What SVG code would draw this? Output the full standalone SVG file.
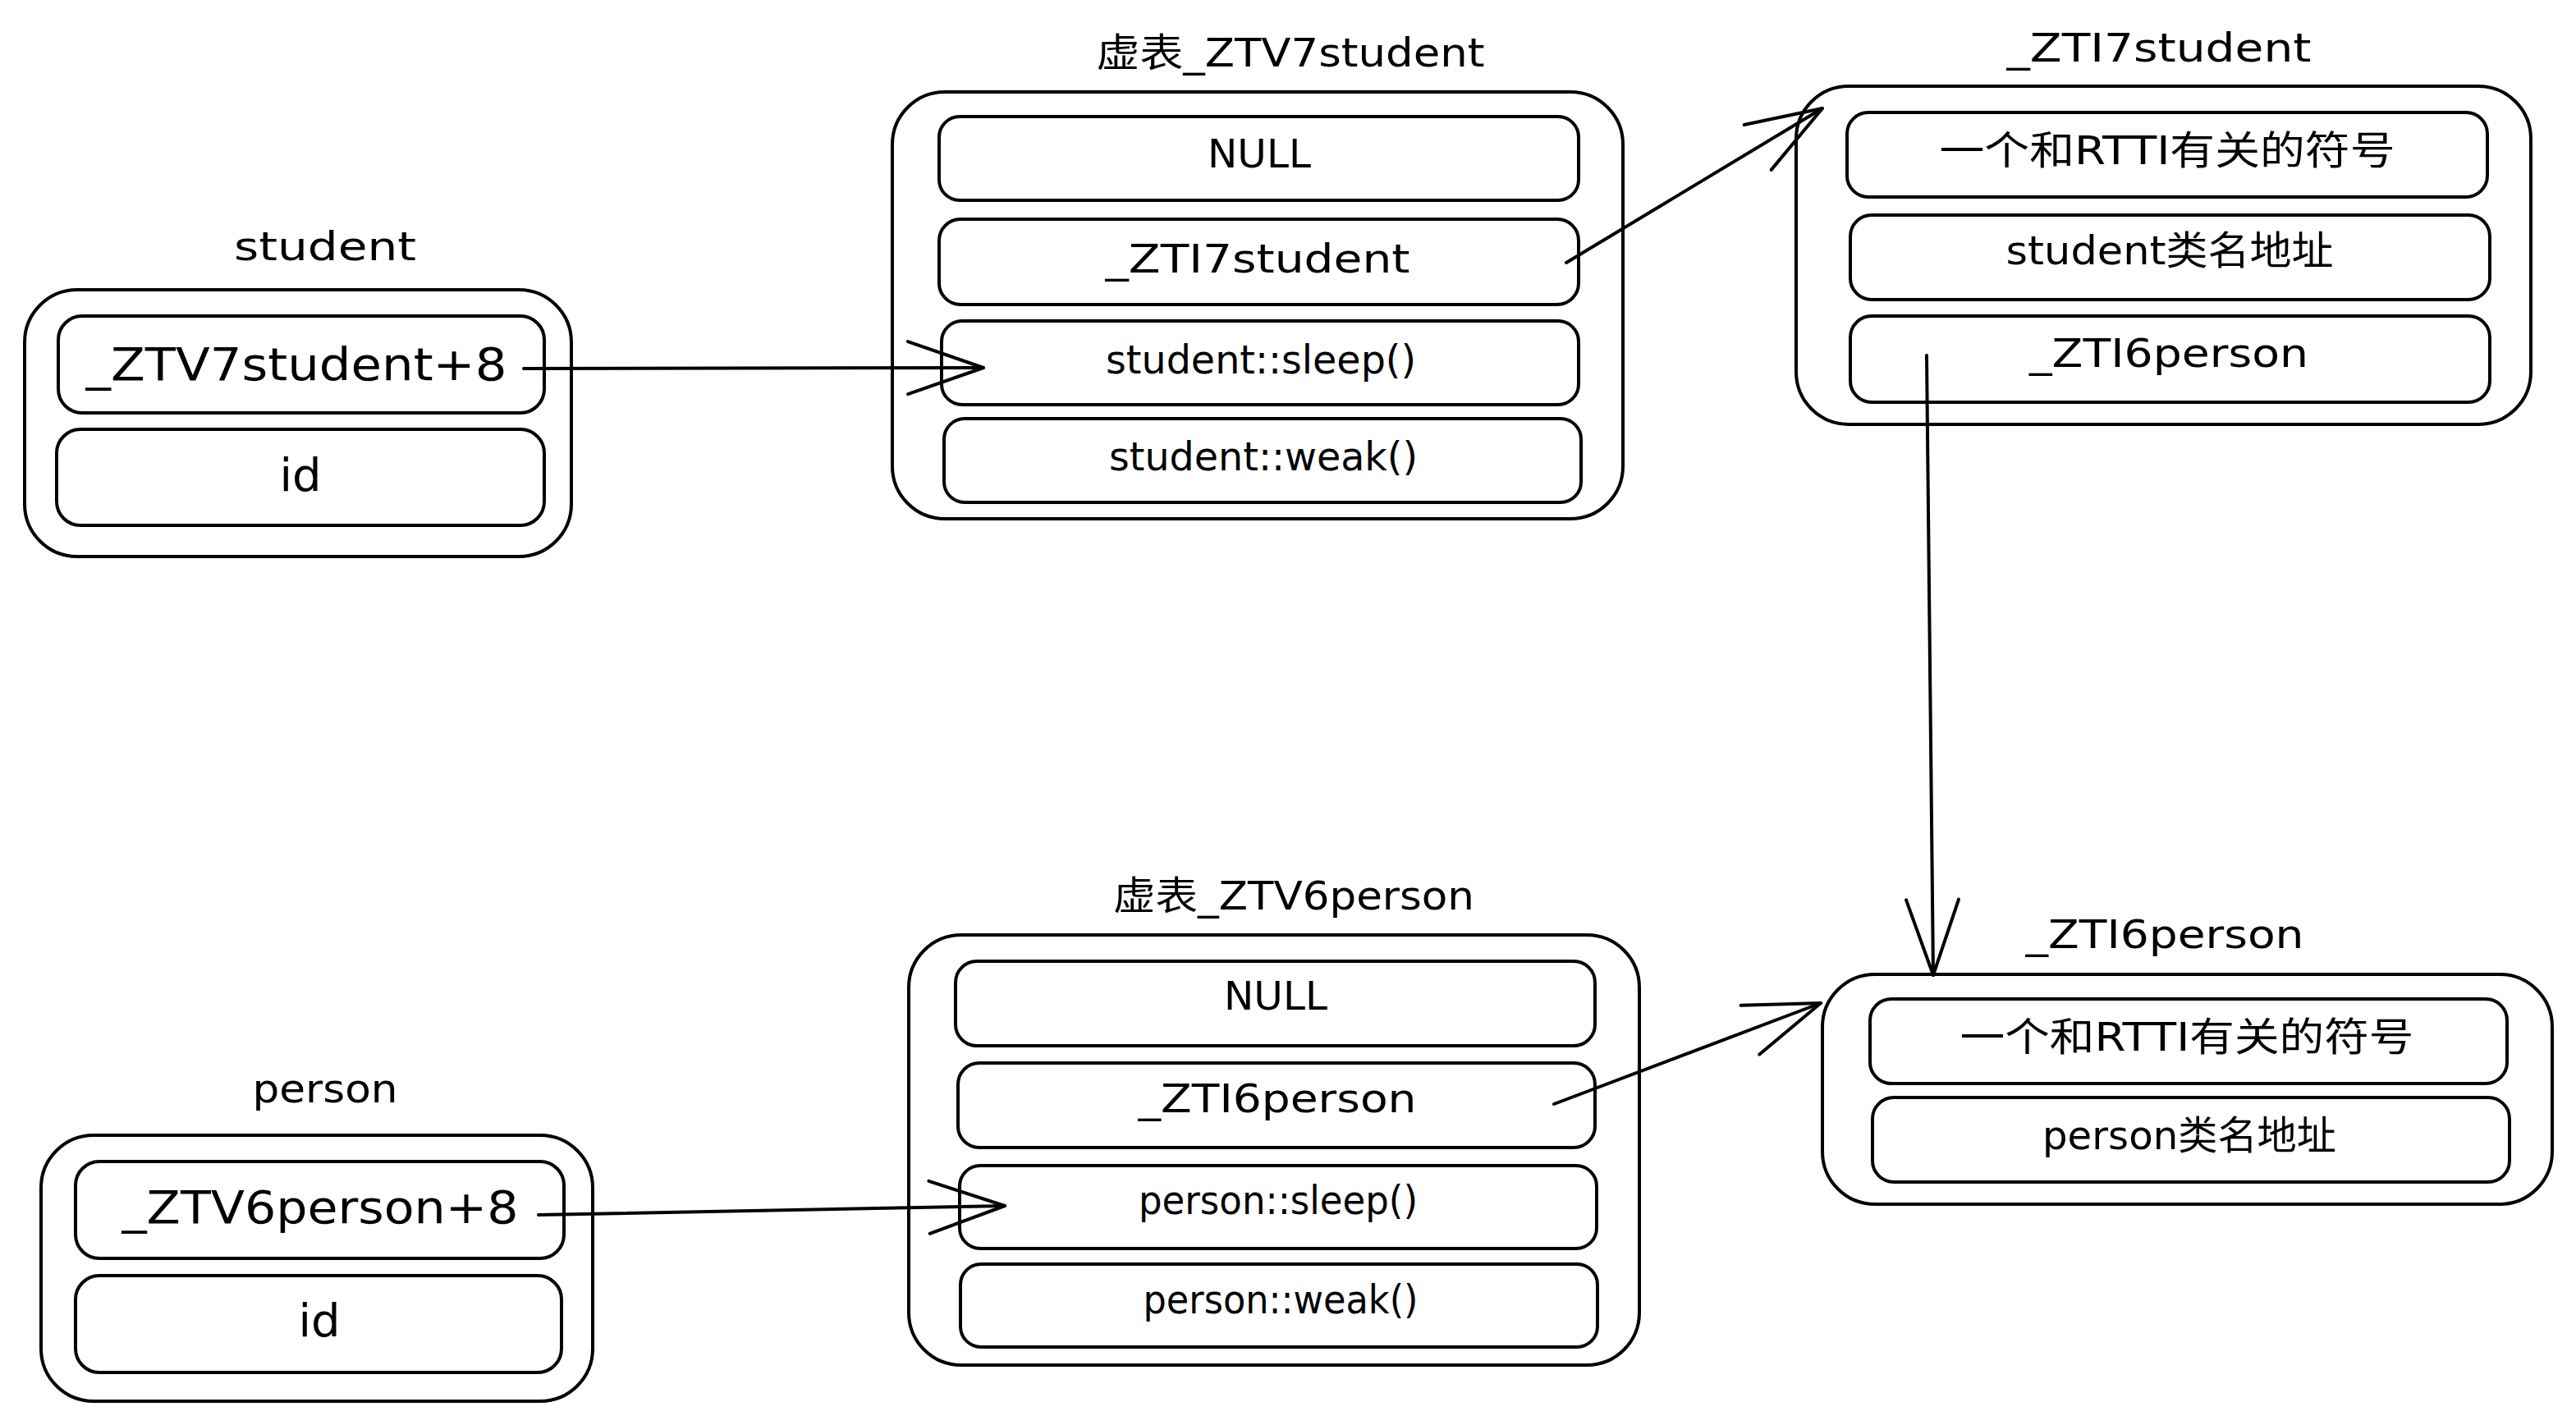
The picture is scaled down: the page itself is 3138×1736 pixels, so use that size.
<svg xmlns="http://www.w3.org/2000/svg" width="3138" height="1736" viewBox="0 0 3138 1736">
  <style>
    .box { fill: none; stroke: #000; stroke-width: 4; stroke-linejoin: round; }
    .t { font-family: "DejaVu Sans", "Noto Sans CJK SC", sans-serif; fill: #000; text-anchor: middle; }
    .s48 { font-size: 48px; }
    .s56 { font-size: 56px; }
    .conn { fill: none; stroke: #000; stroke-width: 4; stroke-linecap: round; marker-end: url(#arrow); }
  </style>
  <defs>
    <marker id="arrow" markerUnits="userSpaceOnUse" viewBox="-100 -40 110 80" refX="0" refY="0" markerWidth="110" markerHeight="80" orient="auto" overflow="visible">
      <path d="M -92 -32 L 0 0 L -92 32" fill="none" stroke="#000" stroke-width="4" stroke-linecap="round" stroke-linejoin="round"/>
    </marker>
  </defs>
  <rect width="3138" height="1736" fill="#fff"/>

  <!-- student object -->
  <g id="student">
    <text class="t s48" x="396" y="317" textLength="222" lengthAdjust="spacingAndGlyphs">student</text>
    <rect class="box" x="30" y="353" width="666" height="325" rx="64"/>
    <g id="student-vptr">
      <rect class="box" x="71" y="385" width="592" height="118" rx="29"/>
      <text class="t s56" x="361" y="463" textLength="513" lengthAdjust="spacingAndGlyphs">_ZTV7student+8</text>
    </g>
    <g id="student-id">
      <rect class="box" x="69" y="523" width="594" height="117" rx="29"/>
      <text class="t s56" x="366" y="598">id</text>
    </g>
  </g>

  <!-- vtable of student -->
  <g id="vtable-student">
    <text class="t s48" x="1572" y="81" textLength="473" lengthAdjust="spacingAndGlyphs">虚表_ZTV7student</text>
    <rect class="box" x="1087" y="112" width="890" height="520" rx="64"/>
    <g id="vts-null">
      <rect class="box" x="1144" y="142" width="779" height="102" rx="25"/>
      <text class="t s48" x="1534" y="204" textLength="126" lengthAdjust="spacingAndGlyphs">NULL</text>
    </g>
    <g id="vts-typeinfo">
      <rect class="box" x="1144" y="267" width="779" height="104" rx="26"/>
      <text class="t s48" x="1532" y="332" textLength="371" lengthAdjust="spacingAndGlyphs">_ZTI7student</text>
    </g>
    <g id="vts-sleep">
      <rect class="box" x="1147" y="391" width="776" height="102" rx="25"/>
      <text class="t s48" x="1536" y="455" textLength="378" lengthAdjust="spacingAndGlyphs">student::sleep()</text>
    </g>
    <g id="vts-weak">
      <rect class="box" x="1150" y="510" width="776" height="102" rx="25"/>
      <text class="t s48" x="1539" y="573" textLength="376" lengthAdjust="spacingAndGlyphs">student::weak()</text>
    </g>
  </g>

  <!-- typeinfo of student -->
  <g id="typeinfo-student">
    <text class="t s48" x="2630" y="75" textLength="371" lengthAdjust="spacingAndGlyphs">_ZTI7student</text>
    <rect class="box" x="2188" y="105" width="895" height="412" rx="64"/>
    <g id="tis-rtti">
      <rect class="box" x="2250" y="137" width="780" height="103" rx="26"/>
      <text class="t s48" x="2640" y="200" textLength="555" lengthAdjust="spacingAndGlyphs">一个和RTTI有关的符号</text>
    </g>
    <g id="tis-name">
      <rect class="box" x="2254" y="262" width="779" height="103" rx="26"/>
      <text class="t s48" x="2643" y="322" textLength="399" lengthAdjust="spacingAndGlyphs">student类名地址</text>
    </g>
    <g id="tis-base">
      <rect class="box" x="2254" y="385" width="779" height="105" rx="26"/>
      <text class="t s48" x="2642" y="447" textLength="340" lengthAdjust="spacingAndGlyphs">_ZTI6person</text>
    </g>
  </g>

  <!-- typeinfo of person -->
  <g id="typeinfo-person">
    <text class="t s48" x="2637" y="1155" textLength="339" lengthAdjust="spacingAndGlyphs">_ZTI6person</text>
    <rect class="box" x="2220" y="1187" width="889" height="280" rx="64"/>
    <g id="tip-rtti">
      <rect class="box" x="2278" y="1217" width="776" height="103" rx="26"/>
      <text class="t s48" x="2664" y="1280" textLength="553" lengthAdjust="spacingAndGlyphs">一个和RTTI有关的符号</text>
    </g>
    <g id="tip-name">
      <rect class="box" x="2281" y="1337" width="776" height="103" rx="26"/>
      <text class="t s48" x="2667" y="1400" textLength="358" lengthAdjust="spacingAndGlyphs">person类名地址</text>
    </g>
  </g>

  <!-- vtable of person -->
  <g id="vtable-person">
    <text class="t s48" x="1576" y="1108" textLength="440" lengthAdjust="spacingAndGlyphs">虚表_ZTV6person</text>
    <rect class="box" x="1107" y="1139" width="890" height="524" rx="64"/>
    <g id="vtp-null">
      <rect class="box" x="1164" y="1171" width="779" height="103" rx="26"/>
      <text class="t s48" x="1554" y="1230" textLength="126" lengthAdjust="spacingAndGlyphs">NULL</text>
    </g>
    <g id="vtp-typeinfo">
      <rect class="box" x="1167" y="1295" width="776" height="103" rx="26"/>
      <text class="t s48" x="1556" y="1355" textLength="339" lengthAdjust="spacingAndGlyphs">_ZTI6person</text>
    </g>
    <g id="vtp-sleep">
      <rect class="box" x="1169" y="1420" width="776" height="101" rx="25"/>
      <text class="t s48" x="1557" y="1479" textLength="340" lengthAdjust="spacingAndGlyphs">person::sleep()</text>
    </g>
    <g id="vtp-weak">
      <rect class="box" x="1170" y="1540" width="776" height="101" rx="25"/>
      <text class="t s48" x="1560" y="1600" textLength="335" lengthAdjust="spacingAndGlyphs">person::weak()</text>
    </g>
  </g>

  <!-- person object -->
  <g id="person">
    <text class="t s48" x="396" y="1343" textLength="177" lengthAdjust="spacingAndGlyphs">person</text>
    <rect class="box" x="50" y="1383" width="672" height="324" rx="64"/>
    <g id="person-vptr">
      <rect class="box" x="92" y="1415" width="595" height="118" rx="29"/>
      <text class="t s56" x="390" y="1490" textLength="483" lengthAdjust="spacingAndGlyphs">_ZTV6person+8</text>
    </g>
    <g id="person-id">
      <rect class="box" x="92" y="1554" width="592" height="118" rx="29"/>
      <text class="t s56" x="389" y="1628">id</text>
    </g>
  </g>

  <!-- pointers -->
  <g id="connectors">
    <path class="conn" d="M 638 449 L 1198 448"/>
    <path class="conn" d="M 1908 320 L 2220 132"/>
    <path class="conn" d="M 2347 433 L 2355 1188"/>
    <path class="conn" d="M 656 1480 L 1224 1469"/>
    <path class="conn" d="M 1893 1345 L 2218 1222"/>
  </g>
</svg>
